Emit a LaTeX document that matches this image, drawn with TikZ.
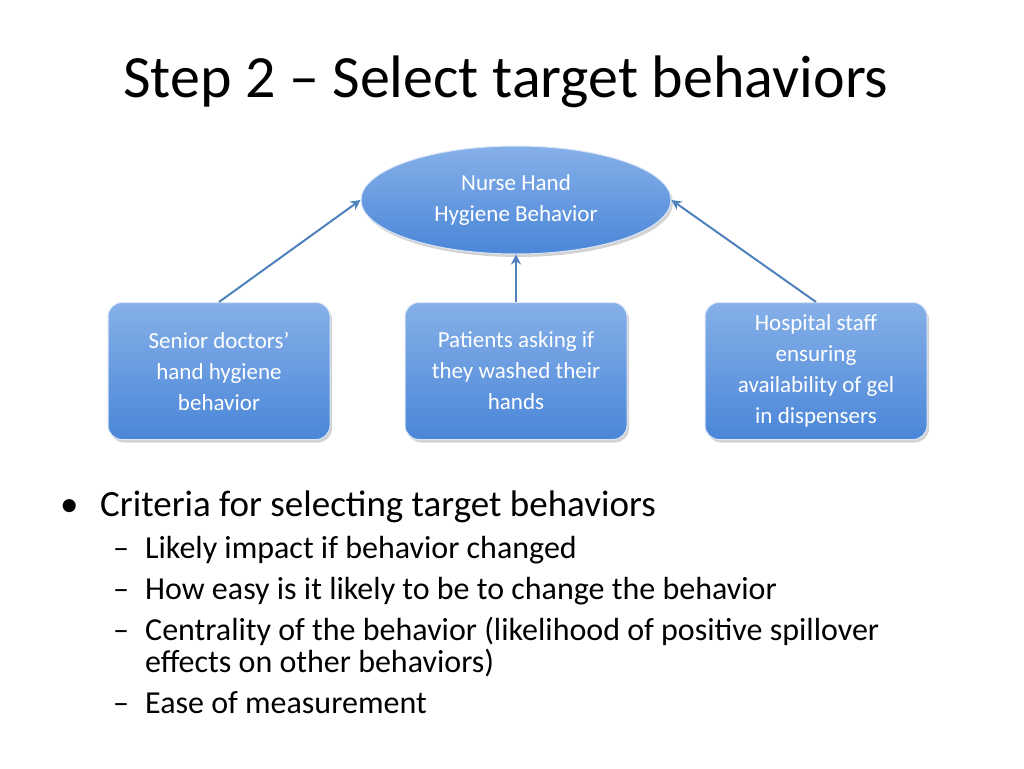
\documentclass[tikz,border=0pt]{standalone}
\usepackage{fontspec}
\setmainfont{Carlito}
\usetikzlibrary{shapes.geometric,shadows,arrows.meta}
\definecolor{boxtop}{HTML}{86B0E8}
\definecolor{boxbot}{HTML}{4A86D8}
\definecolor{linkblue}{HTML}{4F81BD}
\tikzset{
  bluebox/.style={rectangle, rounded corners=14pt, draw=white!70!boxtop, line width=1pt,
    top color=boxtop, bottom color=boxbot, minimum width=222pt, minimum height=137pt,
    align=center, text=white, font=\fontsize{23}{31}\selectfont,
    drop shadow={shadow xshift=2pt, shadow yshift=-3pt, opacity=0.35}},
  blueoval/.style={ellipse, draw=white!70!boxtop, line width=1pt,
    top color=boxtop, bottom color=boxbot, minimum width=310pt, minimum height=108pt,
    align=center, text=white, font=\fontsize{23}{31}\selectfont,
    drop shadow={shadow xshift=2pt, shadow yshift=-3pt, opacity=0.35}},
  link/.style={draw=linkblue, line width=2pt, -{Stealth[open,length=10pt,width=10pt]}}
}
\begin{document}
\begin{tikzpicture}[x=1pt,y=-1pt]
\useasboundingbox (0,0) rectangle (1024,768);
% title
\node[anchor=base west, inner sep=0pt, font=\fontsize{60}{70}\selectfont] (title) at (123,97) {Step 2 -- Select target behaviors};
% diagram
\node[blueoval] (goal) at (516,200) {Nurse Hand\\Hygiene Behavior};
\node[bluebox] (doctors) at (219,371) {Senior doctors'\\hand hygiene\\behavior};
\node[bluebox] (patients) at (516,371) {Patients asking if\\they washed their\\hands};
\node[bluebox] (staff) at (816,371) {Hospital staff\\ensuring\\availability of gel\\in dispensers};
\draw[link] (doctors.north) -- (goal.west);
\draw[link] (patients.north) -- (goal.south);
\draw[link] (staff.north) -- (goal.east);
% criteria
\node[anchor=base west, inner sep=0pt, font=\fontsize{37}{44}\selectfont] (bul) at (60,516) {\textbullet};
\node[anchor=base west, inner sep=0pt, font=\fontsize{37}{44}\selectfont] (crit) at (100,516) {Criteria for selecting target behaviors};
\foreach \y/\txt in {558/Likely impact if behavior changed,
                     599/How easy is it likely to be to change the behavior,
                     640/Centrality of the behavior (likelihood of positive spillover,
                     713/Ease of measurement} {
  \node[anchor=base west, inner sep=0pt, font=\fontsize{32}{38}\selectfont] at (113,\y) {--};
  \node[anchor=base west, inner sep=0pt, font=\fontsize{32}{38}\selectfont] at (145,\y) {\txt};
}
\node[anchor=base west, inner sep=0pt, font=\fontsize{32}{38}\selectfont] (cont) at (145,672) {effects on other behaviors)};
\end{tikzpicture}
\end{document}
